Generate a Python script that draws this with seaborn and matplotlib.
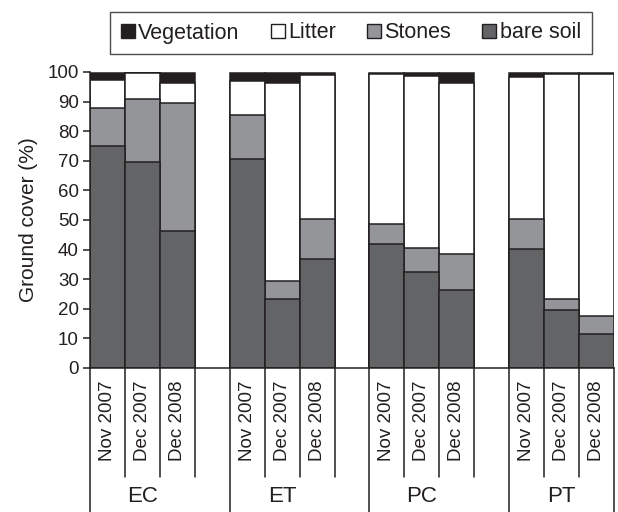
import matplotlib
matplotlib.use("Agg")
import matplotlib.pyplot as plt
from matplotlib.patches import Patch
import seaborn as sns
import pandas as pd
import numpy as np

# Ground cover (%) per site and survey date
groups = ["EC", "ET", "PC", "PT"]
dates = ["Nov 2007", "Dec 2007", "Dec 2008"]
bare_soil = [75.0, 69.5, 46.3, 70.5, 23.2, 36.8, 42.0, 32.3, 26.3, 40.3, 19.6, 11.5]
stones = [13.0, 21.3, 43.2, 15.0, 6.2, 13.6, 6.5, 8.2, 12.2, 10.0, 3.7, 6.2]
litter = [9.2, 9.0, 6.8, 11.3, 67.0, 48.5, 50.9, 58.3, 57.8, 48.0, 76.1, 81.7]
vegetation = [2.5, 0.2, 3.4, 2.9, 3.3, 0.8, 0.3, 0.9, 3.4, 1.4, 0.3, 0.3]

layer_names = ["Vegetation", "Litter", "Stones", "bare soil"]
layer_colors = ["#231f20", "#ffffff", "#939598", "#636466"]
edge = "#231f20"
text_color = "#231f20"

# slot keys: three dates per site, with an empty slot between sites
keys, order = [], []
for gi, g in enumerate(groups):
    for d in dates:
        keys.append(f"{g}|{d}")
        order.append(f"{g}|{d}")
    if gi < len(groups) - 1:
        order.append(f"gap{gi}")

df = pd.DataFrame({
    "slot": keys,
    "bare": bare_soil,
    "stones": stones,
    "litter": litter,
    "veg": vegetation,
})
df["c_bare"] = df["bare"]
df["c_stones"] = df["c_bare"] + df["stones"]
df["c_litter"] = df["c_stones"] + df["litter"]
df["c_veg"] = df["c_litter"] + df["veg"]

sns.set_theme(style="ticks")
plt.rcParams["font.family"] = ["Liberation Sans", "DejaVu Sans"]

fig = plt.figure(figsize=(6.18, 5.12), dpi=100)
ax = fig.add_axes([90 / 618, 1 - 368 / 512, (614 - 90) / 618, (368 - 72) / 512])

# stacked bars drawn as cumulative totals, tallest first
for col, color in zip(["c_veg", "c_litter", "c_stones", "c_bare"], layer_colors):
    sns.barplot(data=df, x="slot", y=col, order=order, color=color,
                saturation=1, edgecolor=edge, linewidth=1.1, width=1.0,
                errorbar=None, ax=ax)

ax.set_xlim(-0.5, len(order) - 0.5)
ax.set_ylim(0, 100)
ax.set_yticks(np.arange(0, 101, 10))
ax.tick_params(axis="y", direction="out", length=5, width=1.1, color=edge,
               labelsize=13.5, pad=3, labelcolor=text_color)
ax.tick_params(axis="x", bottom=False, labelbottom=False)
ax.set_xlabel("")
ax.set_ylabel("Ground cover (%)", fontsize=15, color=text_color, labelpad=7)
for s in ["top", "right"]:
    ax.spines[s].set_visible(False)
for s in ["left", "bottom"]:
    ax.spines[s].set_color(edge)
    ax.spines[s].set_linewidth(1.1)

# two-level category axis below the bars
tr = ax.get_xaxis_transform()
short_y = (368 - 477) / 296
full_y = (368 - 512) / 296
for gi, g in enumerate(groups):
    s = gi * 4
    ax.plot([s - 0.5, s - 0.5], [0, full_y], transform=tr, color=edge,
            lw=1.1, clip_on=False)
    for k in (0.5, 1.5):
        ax.plot([s + k, s + k], [0, short_y], transform=tr, color=edge,
                lw=1.1, clip_on=False)
    end_y = full_y if gi == len(groups) - 1 else short_y
    ax.plot([s + 2.5, s + 2.5], [0, end_y], transform=tr, color=edge,
            lw=1.1, clip_on=False)
    for di, d in enumerate(dates):
        ax.text(s + di, (368 - 421) / 296, d, transform=tr, rotation=90,
                ha="center", va="center", fontsize=13.5, color=text_color)
    ax.text(s + 1, (368 - 497) / 296, g, transform=tr, ha="center",
            va="center", fontsize=16, color=text_color)

handles = [Patch(facecolor=c, edgecolor=edge, linewidth=1.0) for c in layer_colors]
leg = fig.legend(handles, layer_names, loc="center", ncol=4,
                 bbox_to_anchor=(351 / 618, 1 - 33 / 512), frameon=True,
                 fancybox=False, fontsize=15.5, handlelength=0.65,
                 handleheight=0.65, handletextpad=0.15, columnspacing=1.45,
                 borderpad=0.5, borderaxespad=0)
leg.get_frame().set_edgecolor(edge)
leg.get_frame().set_linewidth(1.0)
for t in leg.get_texts():
    t.set_color(text_color)

fig.savefig("out.png", dpi=100)
